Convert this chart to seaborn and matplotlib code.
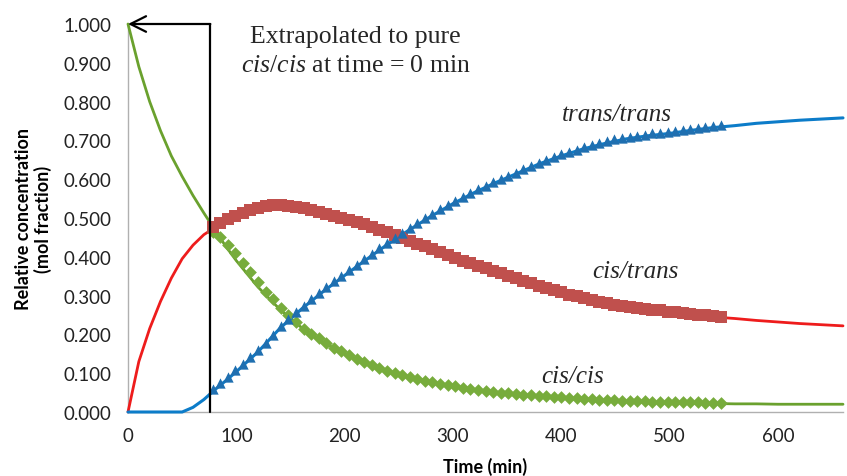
import matplotlib
matplotlib.use('Agg')
import matplotlib.pyplot as plt
import seaborn as sns
from matplotlib.ticker import MultipleLocator, FormatStrFormatter

# ── Data ─────────────────────────────────────────────────────────────────────
# fitted curves
t_fit = [0, 10, 20, 30, 40, 50, 60, 70, 80, 90, 100, 120, 140, 160, 180, 200,
         220, 240, 260, 280, 300, 320, 340, 360, 380, 400, 420, 440, 460, 480,
         500, 520, 540, 560, 580, 600, 620, 640, 660]
cc_fit = [1.000, 0.890, 0.800, 0.725, 0.660, 0.607, 0.558, 0.513, 0.470, 0.428,
          0.390, 0.322, 0.265, 0.218, 0.180, 0.150, 0.125, 0.105, 0.090, 0.077,
          0.066, 0.057, 0.050, 0.044, 0.039, 0.035, 0.032, 0.029, 0.027, 0.025,
          0.024, 0.023, 0.022, 0.021, 0.021, 0.020, 0.020, 0.020, 0.020]
ct_fit = [0.000, 0.130, 0.215, 0.285, 0.345, 0.395, 0.430, 0.457, 0.475, 0.492,
          0.506, 0.527, 0.531, 0.524, 0.511, 0.496, 0.480, 0.461, 0.441, 0.420,
          0.399, 0.379, 0.360, 0.342, 0.324, 0.305, 0.291, 0.279, 0.269, 0.263,
          0.258, 0.251, 0.245, 0.241, 0.236, 0.232, 0.228, 0.225, 0.222]
tt_fit = [0.000, 0.000, 0.000, 0.000, 0.000, 0.000, 0.012, 0.032, 0.057, 0.080,
          0.104, 0.155, 0.215, 0.265, 0.310, 0.352, 0.393, 0.433, 0.470, 0.505,
          0.537, 0.566, 0.592, 0.616, 0.640, 0.660, 0.678, 0.692, 0.704, 0.712,
          0.718, 0.726, 0.733, 0.738, 0.744, 0.748, 0.752, 0.755, 0.758]

# measured points
t_obs = [78, 85, 92, 99, 106, 113, 120, 127, 134, 141,
         148, 155, 162, 169, 176, 183, 190, 197, 204, 211,
         218, 225, 232, 239, 246, 253, 260, 267, 274, 281,
         288, 295, 302, 309, 316, 323, 330, 337, 344, 351,
         358, 365, 372, 379, 386, 393, 400, 407, 414, 421,
         428, 435, 442, 449, 456, 463, 470, 477, 484, 491,
         498, 505, 512, 519, 526, 533, 540, 547]
cc_obs = [0.465, 0.450, 0.430, 0.410, 0.385, 0.360, 0.335, 0.310, 0.290, 0.268,
          0.250, 0.232, 0.215, 0.200, 0.190, 0.177, 0.165, 0.156, 0.146, 0.136,
          0.128, 0.120, 0.113, 0.106, 0.100, 0.095, 0.090, 0.086, 0.081, 0.077,
          0.073, 0.069, 0.066, 0.063, 0.060, 0.057, 0.055, 0.052, 0.050, 0.049,
          0.046, 0.044, 0.043, 0.041, 0.040, 0.039, 0.039, 0.036, 0.035, 0.034,
          0.033, 0.032, 0.031, 0.031, 0.029, 0.029, 0.028, 0.028, 0.027, 0.027,
          0.026, 0.026, 0.025, 0.025, 0.025, 0.024, 0.024, 0.024]
ct_obs = [0.478, 0.488, 0.497, 0.506, 0.514, 0.521, 0.527, 0.531, 0.534, 0.533,
          0.531, 0.528, 0.525, 0.521, 0.516, 0.511, 0.506, 0.500, 0.495, 0.490,
          0.484, 0.477, 0.470, 0.463, 0.456, 0.449, 0.441, 0.434, 0.427, 0.419,
          0.412, 0.404, 0.397, 0.390, 0.384, 0.377, 0.371, 0.364, 0.357, 0.351,
          0.345, 0.338, 0.332, 0.326, 0.320, 0.314, 0.308, 0.302, 0.298, 0.293,
          0.288, 0.284, 0.281, 0.277, 0.274, 0.271, 0.268, 0.266, 0.264, 0.262,
          0.259, 0.257, 0.255, 0.253, 0.251, 0.249, 0.247, 0.245]
tt_obs = [0.060, 0.074, 0.090, 0.107, 0.124, 0.142, 0.160, 0.179, 0.199, 0.221,
          0.240, 0.258, 0.274, 0.290, 0.306, 0.322, 0.337, 0.351, 0.365, 0.380,
          0.394, 0.408, 0.422, 0.436, 0.449, 0.462, 0.475, 0.487, 0.499, 0.511,
          0.522, 0.533, 0.544, 0.554, 0.564, 0.574, 0.583, 0.592, 0.601, 0.609,
          0.617, 0.626, 0.634, 0.642, 0.650, 0.657, 0.664, 0.670, 0.676, 0.683,
          0.689, 0.694, 0.699, 0.703, 0.707, 0.709, 0.712, 0.715, 0.718, 0.720,
          0.722, 0.724, 0.727, 0.730, 0.732, 0.734, 0.737, 0.739]

t_extrap = 76   # where the fit is extrapolated back to t = 0

# ── Style ────────────────────────────────────────────────────────────────────
sns.set_theme(style="white")
plt.rcParams.update({
    "font.family": ["Lato", "DejaVu Sans"],
    "mathtext.fontset": "custom",
    "mathtext.rm": "Liberation Serif",
    "mathtext.it": "Liberation Serif:italic",
})
SERIF = "Liberation Serif"
GREEN_L, GREEN_M = "#6aa12e", "#77ac3c"
RED_L, RED_M = "#ee1c1c", "#c0504d"
BLUE_L, BLUE_M = "#0c7cc9", "#1f6fb0"
AXIS_GREY = "#b0b0b0"

fig = plt.figure(figsize=(8.47, 4.77), dpi=100)
ax = fig.add_axes([128 / 847, 64 / 477, 715 / 847, 388 / 477])

# fitted lines
sns.lineplot(x=t_fit, y=cc_fit, color=GREEN_L, lw=2, ax=ax, clip_on=False, zorder=3)
sns.lineplot(x=t_fit, y=ct_fit, color=RED_L, lw=2, ax=ax, clip_on=False, zorder=3)
sns.lineplot(x=t_fit, y=tt_fit, color=BLUE_L, lw=2.2, ax=ax, clip_on=False, zorder=3)

# measured points
sns.scatterplot(x=t_obs, y=cc_obs, marker="D", s=42, color=GREEN_M, linewidth=0, ax=ax, zorder=4)
sns.scatterplot(x=t_obs, y=ct_obs, marker="s", s=68, color=RED_M, linewidth=0, ax=ax, zorder=4)
sns.scatterplot(x=t_obs, y=tt_obs, marker="^", s=55, color=BLUE_M, linewidth=0, ax=ax, zorder=5)

# extrapolation bracket
ax.plot([t_extrap, t_extrap], [0, 1.0], color="black", lw=1.6, clip_on=False, zorder=6)
ax.annotate("", xy=(0, 1.0), xytext=(t_extrap, 1.0),
            arrowprops=dict(arrowstyle="->", color="black", lw=1.6,
                            mutation_scale=28, shrinkA=0, shrinkB=0),
            annotation_clip=False, zorder=6)

ax.text(210, 0.969, "Extrapolated to pure", ha="center", va="center",
        fontsize=18.5, family=SERIF)
ax.text(210, 0.895, r"$\mathit{cis/cis}$ at time = 0 min", ha="center", va="center",
        fontsize=18.5, family=SERIF)
ax.text(451, 0.768, "trans/trans", ha="center", va="center", fontsize=18,
        family=SERIF, style="italic")
ax.text(468, 0.363, "cis/trans", ha="center", va="center", fontsize=18,
        family=SERIF, style="italic")
ax.text(410, 0.093, "cis/cis", ha="center", va="center", fontsize=18,
        family=SERIF, style="italic")

# ── Axes ─────────────────────────────────────────────────────────────────────
ax.set_xlim(0, 660)
ax.set_ylim(0, 1.0)
ax.xaxis.set_major_locator(MultipleLocator(100))
ax.xaxis.set_minor_locator(MultipleLocator(20))
ax.yaxis.set_major_locator(MultipleLocator(0.1))
ax.yaxis.set_major_formatter(FormatStrFormatter("%.3f"))
ax.tick_params(axis="both", which="both", direction="in", color=AXIS_GREY,
               width=1, labelsize=13.5, labelcolor="#222222")
ax.tick_params(axis="both", which="major", length=6)
ax.tick_params(axis="x", which="minor", length=5)
ax.tick_params(axis="y", pad=12)
ax.tick_params(axis="x", pad=11)
for side in ["top", "right"]:
    ax.spines[side].set_visible(False)
for side in ["left", "bottom"]:
    ax.spines[side].set_color(AXIS_GREY)
    ax.spines[side].set_linewidth(1)

ax.set_xlabel("Time (min)", fontsize=13, fontweight="bold", color="black")
ax.set_ylabel("Relative concentration\n(mol fraction)", fontsize=13,
              fontweight="bold", color="black", linespacing=1.15)
ax.xaxis.set_label_coords(0.5, -0.115)
ax.yaxis.set_label_coords(-0.106, 0.5)

fig.savefig("out.png", dpi=100, facecolor="white")
